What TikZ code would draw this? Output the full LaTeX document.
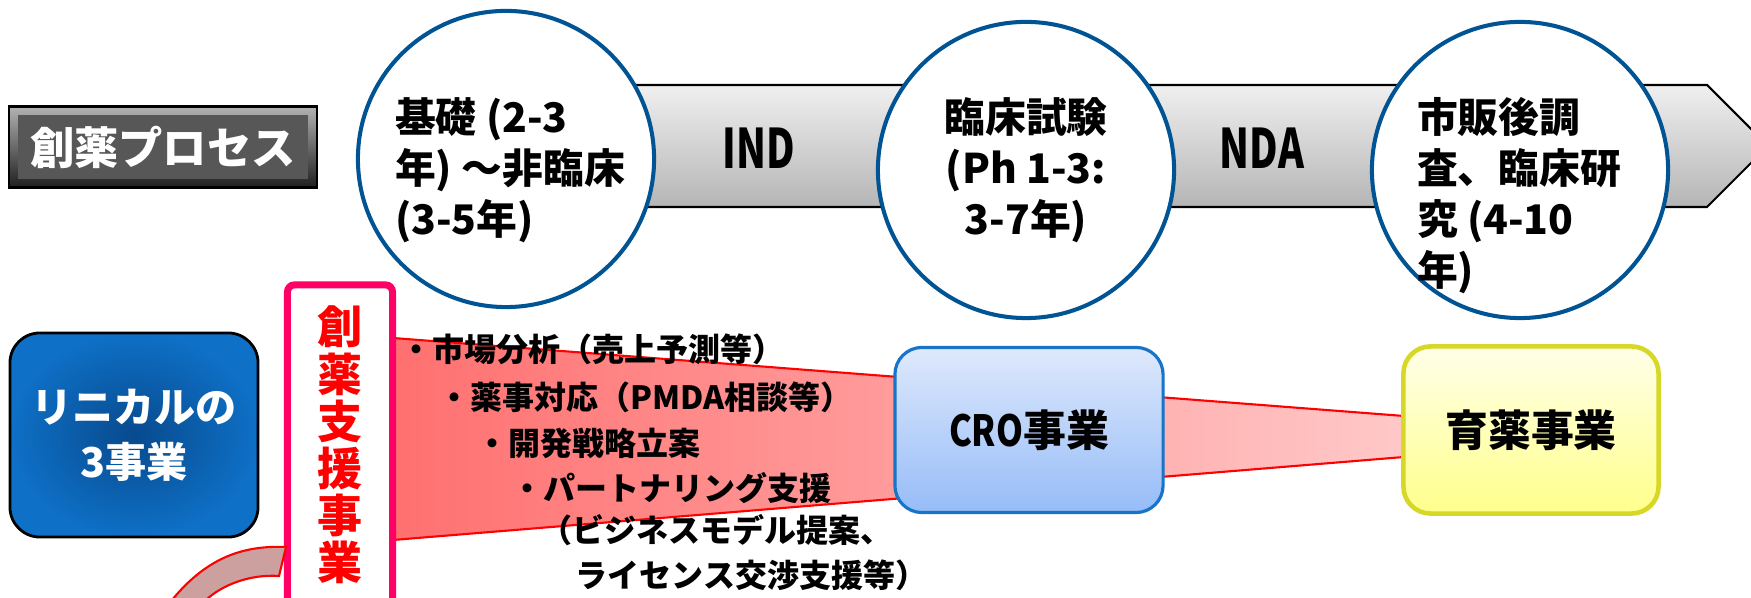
\documentclass[tikz,border=0pt]{standalone}
\usepackage{fontspec}
\newfontfamily\jpfont{Noto Sans CJK JP}
\newcommand\jpb[2]{\jpfont\bfseries\fontsize{#1}{#2}\selectfont}

\definecolor{ringblue}{RGB}{0,84,147}
\definecolor{supportpink}{RGB}{255,0,102}
\definecolor{funnelleft}{RGB}{255,112,112}
\definecolor{funnelright}{RGB}{255,200,200}
\definecolor{crotop}{RGB}{222,233,252}
\definecolor{crobot}{RGB}{150,188,248}
\definecolor{croedge}{RGB}{24,116,200}
\definecolor{ikutop}{RGB}{255,255,232}
\definecolor{ikubot}{RGB}{255,255,140}
\definecolor{ikuedge}{RGB}{215,215,40}
\definecolor{linicalin}{RGB}{8,74,142}
\definecolor{linicalout}{RGB}{14,112,198}
\definecolor{curvefill}{RGB}{205,160,160}

\tikzset{
  stage/.style={circle, draw=ringblue, line width=1.15pt, fill=white, minimum size=2.96cm},
  stagetxt/.style={anchor=north, inner sep=0pt, font=\jpb{11.6pt}{14.5pt}},
  gatetxt/.style={inner sep=0pt, font=\jpb{15.5pt}{18pt}},
  bizbox/.style={rounded corners=0.27cm, line width=0.9pt, font=\jpb{12.2pt}{14pt}},
  listitem/.style={anchor=west, inner sep=0pt, font=\jpb{9.1pt}{10pt}},
}

\begin{document}
\begin{tikzpicture}[x=0.01cm, y=-0.01cm]
\useasboundingbox (0,0) rectangle (1751,598);
\fill[white] (0,0) rectangle (1751,598);

% process arrow behind the stages
\draw[line width=0.6pt, top color=gray!12, bottom color=gray!58]
  (506,85) -- (1707,85) -- (1768,146) -- (1707,207) -- (506,207) -- cycle;
\node[gatetxt] (ind) at (759,148) {\scalebox{0.72}[1]{IND}};
\node[gatetxt] (nda) at (1262,148) {\scalebox{0.72}[1]{NDA}};

\node[stage] (basic) at (506,159) {};
\node[stage] (clinical) at (1026,170) {};
\node[stage] (postmkt) at (1520,170) {};
\node[stagetxt, align=left] (basictxt) at (510,97) {基礎 (2-3\\年) ～非臨床\\(3-5年)};
\node[stagetxt, align=center] (clinicaltxt) at (1026,97) {臨床試験\\(Ph 1-3:\\3-7年)};
\node[stagetxt, align=left] (postmkttxt) at (1519,97) {市販後調\\査、臨床研\\究 (4-10\\年)};

% heading
\node[draw=black, line width=0.8pt, top color=black!30, bottom color=black!88,
  minimum width=3.08cm, minimum height=0.81cm] (processbox) at (163,147) {};
\node[fill=black!66, minimum width=2.9cm, minimum height=0.63cm, inner sep=0pt,
  text=white, font=\jpb{12.6pt}{14pt}] (process) at (processbox) {創薬プロセス};

\node[draw=black, line width=0.8pt, rounded corners=0.3cm, inner color=linicalin, outer color=linicalout,
  minimum width=2.48cm, minimum height=2.04cm, text=white, align=center, font=\jpb{11.7pt}{15.6pt}]
  (linical) at (134,435) {リニカルの\\3事業};

% funnel from support to ikuyaku
\draw[red, line width=0.6pt, left color=funnelleft, right color=funnelright]
  (393,338) -- (1404,416) -- (1404,457) -- (393,540) -- cycle;

\node[draw=supportpink, line width=2pt, fill=white, rounded corners=2pt, minimum width=1.05cm,
  minimum height=3.2cm, text=red, align=center, font=\jpb{12.8pt}{13.4pt}]
  (support) at (340,445) {創\\薬\\支\\援\\事\\業};

\node[bizbox, draw=croedge, top color=crotop, bottom color=crobot,
  minimum width=2.68cm, minimum height=1.65cm] (cro) at (1029,430) {\scalebox{0.8}[1]{CRO}事業};
\node[bizbox, draw=ikuedge, line width=1.3pt, top color=ikutop, bottom color=ikubot,
  minimum width=2.55cm, minimum height=1.67cm] (ikuyaku) at (1531,430) {育薬事業};

\node[listitem] (market) at (400,349) {・市場分析（売上予測等）};
\node[listitem] (regulatory) at (438,397) {・薬事対応（PMDA相談等）};
\node[listitem] (strategy) at (476,443) {・開発戦略立案};
\node[listitem] (partnering) at (511,488) {・パートナリング支援};
\node[listitem] (bizmodel) at (540,530) {（ビジネスモデル提案、};
\node[listitem] (license) at (575,575) {ライセンス交渉支援等）};

\draw[red, line width=0.6pt, fill=curvefill]
  (172,600) .. controls (205,560) and (240,545) .. (286,547) -- (279,576)
  .. controls (250,574) and (222,585) .. (206,600) -- cycle;
\end{tikzpicture}
\end{document}
